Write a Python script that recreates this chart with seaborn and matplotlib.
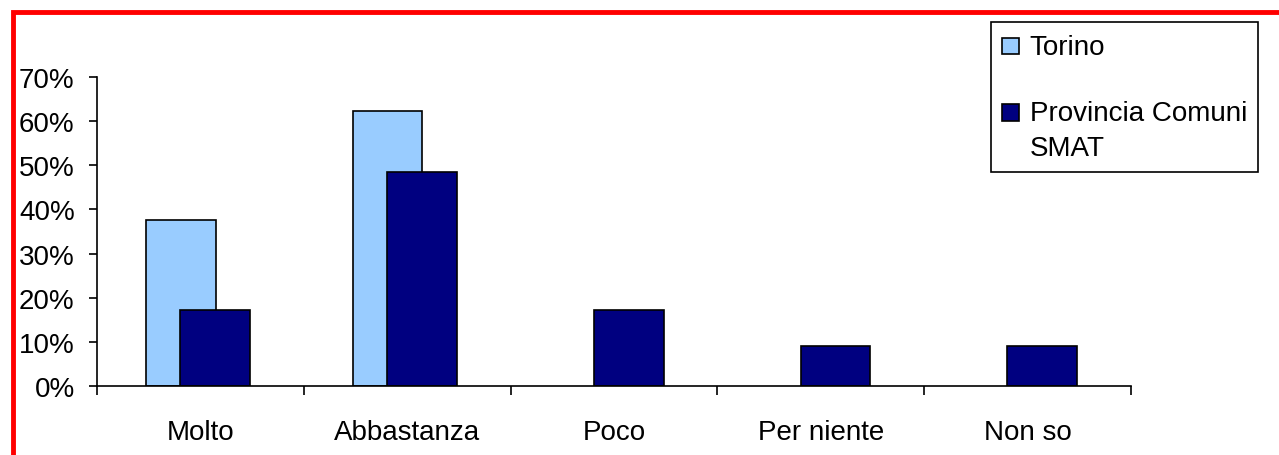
import matplotlib
matplotlib.use("Agg")
import matplotlib.pyplot as plt
import seaborn as sns
from matplotlib.patches import Rectangle, Patch
from matplotlib.ticker import FixedLocator, PercentFormatter

categories = ["Molto", "Abbastanza", "Poco", "Per niente", "Non so"]
torino = [37.5, 62.4, 0.0, 0.0, 0.0]
provincia = [17.2, 48.4, 17.2, 9.1, 9.1]
series_names = ["Torino", "Provincia Comuni\nSMAT"]
y_ticks = [0, 10, 20, 30, 40, 50, 60, 70]

sns.set_theme(style="white")
plt.rcParams["font.family"] = ["Liberation Sans", "DejaVu Sans"]
plt.rcParams["font.size"] = 20
plt.rcParams["text.color"] = "black"
plt.rcParams["xtick.color"] = "black"
plt.rcParams["ytick.color"] = "black"
plt.rcParams["axes.labelcolor"] = "black"

fig = plt.figure(figsize=(12.79, 4.56), dpi=100)
ax = fig.add_axes([0.0758, 0.1513, 0.8085, 0.6776])

light_blue = "#99ccff"
navy = "#000080"
bar_w = 0.338

# two overlapping series, Torino behind
for vals, color, shift in [(torino, light_blue, -0.095), (provincia, navy, 0.071)]:
    n_before = len(ax.patches)
    sns.barplot(x=categories, y=vals, color=color, width=bar_w, saturation=1,
                edgecolor="black", linewidth=1.2, ax=ax)
    for p in ax.patches[n_before:]:
        p.set_x(p.get_x() + shift)
        if p.get_height() == 0:
            p.set_visible(False)

ax.set_xlim(-0.5, len(categories) - 0.5)
ax.set_ylim(0, 70)
ax.yaxis.set_major_locator(FixedLocator(y_ticks))
ax.yaxis.set_major_formatter(PercentFormatter(decimals=0))

# ticks between categories, labels in the middle
ax.xaxis.set_major_locator(FixedLocator([i - 0.5 for i in range(len(categories) + 1)]))
ax.xaxis.set_minor_locator(FixedLocator(list(range(len(categories)))))
ax.set_xticklabels([""] * (len(categories) + 1))
ax.set_xticklabels(categories, minor=True)
ax.tick_params(axis="x", which="major", direction="out", length=6.5, width=1.2,
               color="black", bottom=True)
ax.tick_params(axis="x", which="minor", length=0, pad=24, labelsize=20,
               labelcolor="black")
ax.tick_params(axis="y", direction="out", length=6, width=1.2, color="black",
               left=True, pad=10, labelsize=20, labelcolor="black")

for side in ["top", "right"]:
    ax.spines[side].set_visible(False)
for side in ["left", "bottom"]:
    ax.spines[side].set_color("black")
    ax.spines[side].set_linewidth(1.2)
ax.set_xlabel("")
ax.set_ylabel("")

handles = [Patch(facecolor=light_blue, edgecolor="black", linewidth=1.2),
           Patch(facecolor=navy, edgecolor="black", linewidth=1.2)]
leg = fig.legend(handles, series_names, loc="upper left",
                 bbox_to_anchor=(0.7748, 0.9485), borderaxespad=0,
                 fontsize=20, frameon=True, fancybox=False, shadow=False,
                 handlelength=0.6, handleheight=0.55, handletextpad=0.4,
                 labelspacing=1.45, borderpad=0.4)
for t in leg.get_texts():
    t.set_color("black")
    t.set_linespacing(1.45)
leg.get_frame().set_edgecolor("black")
leg.get_frame().set_linewidth(1.2)
leg.get_frame().set_alpha(1)
# marker next to the first line of a wrapped label
for row in leg._legend_handle_box.get_children()[0].get_children():
    row.align = "top"
for p in leg.get_patches():
    p.set_y(p.get_y() - 3)

# red frame around the chart
fig.patches.append(Rectangle((0.0098, -0.2), 1.2, 0.9715 + 0.2,
                             transform=fig.transFigure, fill=False,
                             edgecolor="red", linewidth=3.5, clip_on=False))

fig.savefig("out.png", dpi=100)
